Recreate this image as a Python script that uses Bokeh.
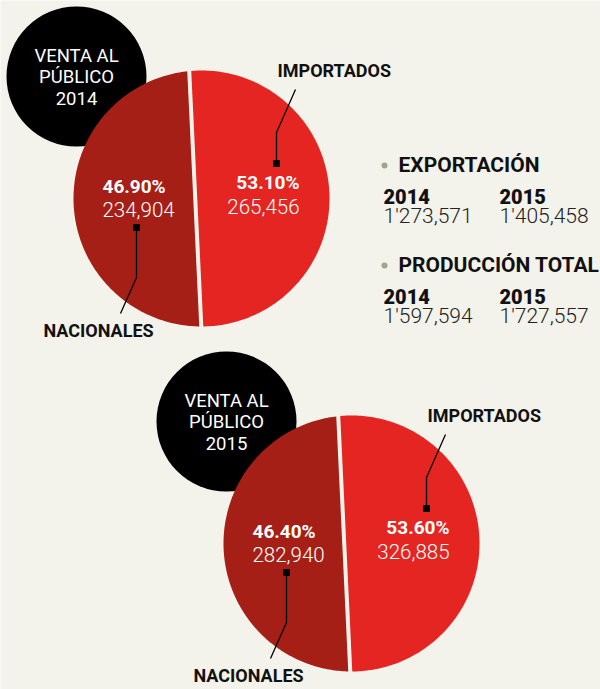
import numpy as np
from bokeh.plotting import figure
from bokeh.models import Range1d
from bokeh.core.properties import value
from bokeh.embed import file_html
from bokeh.resources import INLINE

# ---------------- data ----------------
years = ["2014", "2015"]
nacionales_pct = [46.90, 46.40]
importados_pct = [53.10, 53.60]
nacionales_val = [234904, 282940]
importados_val = [265456, 326885]
exportacion = [1273571, 1405458]
produccion_total = [1597594, 1727557]
slice_labels = ["NACIONALES", "IMPORTADOS"]
title_lines = ["VENTA AL", "PÚBLICO"]
panel_titles = ["EXPORTACIÓN", "PRODUCCIÓN TOTAL"]

# ---------------- style ----------------
BG = "#f4f3eb"
RED = "#e42521"
DARK = "#a61f16"
FONT = "Roboto"
LIGHT = "Roboto Light"
HEAVY = "'Roboto Black', Roboto"
TY = -7.5  # baseline correction

W, H = 600, 689
p = figure(width=W, height=H, output_backend="svg", toolbar_location=None,
           x_range=Range1d(0, W), y_range=Range1d(H, 0),
           x_axis_location=None, y_axis_location=None, min_border=0)
p.background_fill_color = BG
p.border_fill_color = BG
p.outline_line_color = None
p.grid.visible = False


def fmt_big(v):
    return f"{v:,}".replace(",", "'", 1)


def txt(x, y, s, align="left", color="#111111", font=FONT, size="20px", style="normal"):
    p.text(x=[x], y=[y + TY], text=[s], text_align=align, text_baseline="alphabetic",
           text_color=color, text_font=value(font), text_font_size=size,
           text_font_style=style)


def split_pie(cx, cy, R, frac_left, gap, tilt_deg):
    target = np.pi * frac_left
    lo, hi = 0.0, np.pi
    for _ in range(80):
        mid = (lo + hi) / 2
        if mid - np.sin(mid) * np.cos(mid) < target:
            lo = mid
        else:
            hi = mid
    alpha = (lo + hi) / 2
    k = -R * np.cos(alpha)
    t = np.radians(tilt_deg)
    n = np.array([np.cos(t), -np.sin(t)])
    d = np.array([np.sin(t), np.cos(t)])
    th1 = np.arccos((k - gap / 2) / R)
    th2 = np.arccos((k + gap / 2) / R)
    a_left = np.linspace(th1, 2 * np.pi - th1, 200)
    a_right = np.linspace(-th2, th2, 200)

    def pts(a):
        x = cx + R * (np.cos(a) * n[0] + np.sin(a) * d[0])
        y = cy + R * (np.cos(a) * n[1] + np.sin(a) * d[1])
        return x, y
    return pts(a_left), pts(a_right)


centers = [(201, 198), (351, 543)]
R = 128

for i, (cx, cy) in enumerate(centers):
    # black title circle
    bx, by = cx - 125, cy - 122
    p.circle(x=[bx], y=[by], radius=70, fill_color="black", line_color=None)
    for j, line in enumerate(title_lines + [years[i]]):
        txt(bx, by - 13 + 21 * j, line, align="center", color="white", size="18.5px")

    (lx, ly), (rx, ry) = split_pie(cx, cy, R, nacionales_pct[i] / 100.0, 4.0, 2.7)
    p.patch(lx, ly, fill_color=DARK, line_color=None)
    p.patch(rx, ry, fill_color=RED, line_color=None)

    # importados leader
    p.line([cx + 94, cx + 75, cx + 75], [cy - 109, cy - 66, cy - 35],
           line_color="black", line_width=1.3)
    p.scatter([cx + 75], [cy - 35], marker="square", size=7, fill_color="black", line_color=None)
    txt(cx + 76, cy - 121, slice_labels[1], size="18px", style="bold")
    txt(cx + 98, cy - 9, f"{importados_pct[i]:.2f}%", align="right", color="white",
        size="19px", style="bold")
    txt(cx + 98, cy + 15, f"{importados_val[i]:,}", align="right", color="white",
        font=LIGHT, size="20.5px")

    # nacionales leader
    p.line([cx - 65, cx - 65, cx - 81], [cy + 29, cy + 79, cy + 115],
           line_color="black", line_width=1.3)
    p.scatter([cx - 65], [cy + 29], marker="square", size=7, fill_color="black", line_color=None)
    txt(cx - 158, cy + 139, slice_labels[0], size="18px", style="bold")
    txt(cx - 99, cy - 5, f"{nacionales_pct[i]:.2f}%", color="white", size="19px", style="bold")
    txt(cx - 99, cy + 18, f"{nacionales_val[i]:,}", color="white", font=LIGHT, size="20.5px")

# right panel
panel_vals = [exportacion, produccion_total]
for k, (title, vals) in enumerate(zip(panel_titles, panel_vals)):
    y0 = 165 + 100 * k
    p.scatter([384], [y0], marker="circle", size=6, fill_color="#a3a38e", line_color=None)
    txt(398, y0 + 7, title, size="21px", style="bold")
    for j, xx in enumerate([383, 499]):
        txt(xx, y0 + 38, years[j], font=HEAVY, size="20px", style="bold")
        txt(xx, y0 + 58, fmt_big(vals[j]), color="#222222", font=LIGHT, size="21px")

open("out.html", "w").write(file_html(p, INLINE))
